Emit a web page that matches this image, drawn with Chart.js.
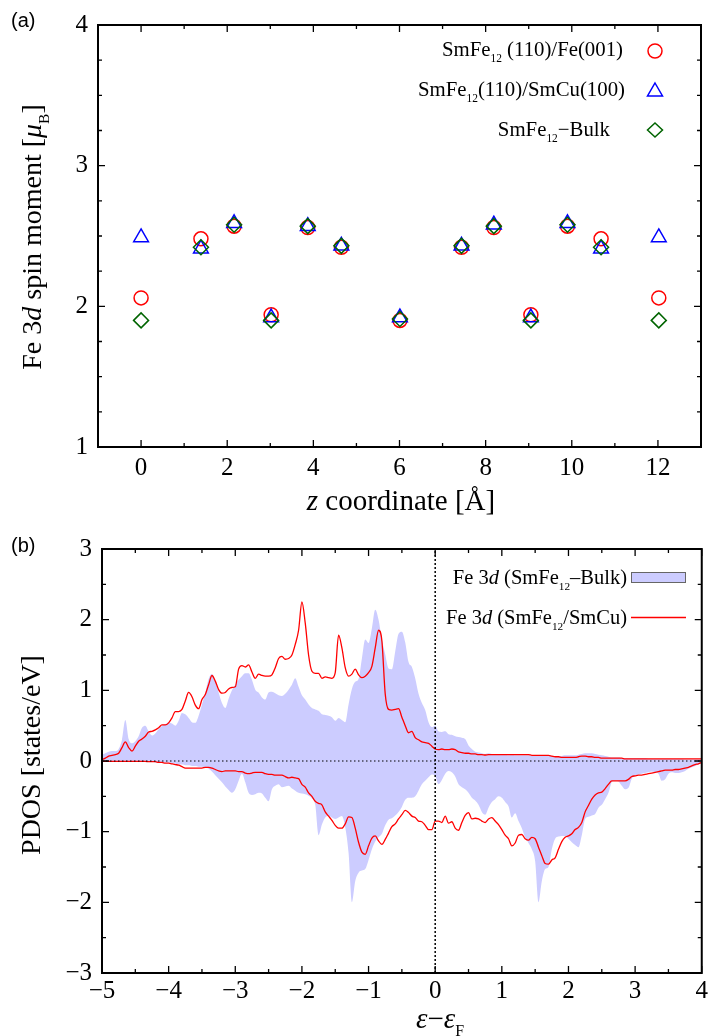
<!DOCTYPE html>
<html lang="en">
<head>
    <meta charset="UTF-8">
    <title>Fe 3d spin moment and PDOS</title>
    <script src="https://cdn.jsdelivr.net/npm/chart.js"></script>
    <style>
        html, body { margin: 0; padding: 0; background: #fff; }
        #wrap {
            position: relative;
            width: 711px;
            height: 1036px;
            overflow: hidden;
            font-family: 'Liberation Serif', 'Times New Roman', serif;
            color: #000;
        }
        canvas { position: absolute; left: 0; }
        #chartA { top: 0; }
        #chartB { top: 520px; }
        .lbl { position: absolute; white-space: nowrap; line-height: 1; }
        .panel { font-family: 'Liberation Sans', Arial, sans-serif; font-size: 20px; }
        .ytitle { transform: translate(-50%, -50%) rotate(-90deg); }
        .xtitle { transform: translateX(-50%); }
        sub { font-size: 0.55em; vertical-align: -0.5em; line-height: 0; }
    </style>
</head>
<body>
<div id="wrap">
    <canvas id="chartA" width="711" height="520"></canvas>
    <canvas id="chartB" width="711" height="516"></canvas>

    <!-- panel (a) -->
    <div class="lbl panel" style="left:11px; top:10px;">(a)</div>
    <div class="lbl ytitle" style="left:32px; top:237px; font-size:28px;">Fe 3<i>d</i> spin moment [<i>μ</i><sub>B</sub>]</div>
    <div class="lbl xtitle" style="left:401px; top:486px; font-size:29px;"><i>z</i> coordinate [Å]</div>
    <div class="lbl" style="right:88px; top:39px; font-size:20.8px;">SmFe<sub>12</sub> (110)/Fe(001)</div>
    <div class="lbl" style="right:86px; top:79px; font-size:20.8px;">SmFe<sub>12</sub>(110)/SmCu(100)</div>
    <div class="lbl" style="right:101px; top:119px; font-size:20.8px;">SmFe<sub>12</sub>−Bulk</div>

    <!-- panel (b) -->
    <div class="lbl panel" style="left:11px; top:535px;">(b)</div>
    <div class="lbl ytitle" style="left:31px; top:755px; font-size:28px;">PDOS [states/eV]</div>
    <div class="lbl xtitle" style="left:440px; top:1004px; font-size:29px;"><i>ε</i>−<i>ε</i><sub>F</sub></div>
    <div class="lbl" style="right:84px; top:567px; font-size:20.5px;">Fe 3<i>d</i> (SmFe<sub>12</sub>–Bulk)</div>
    <div class="lbl" style="right:84px; top:607px; font-size:20.5px;">Fe 3<i>d</i> (SmFe<sub>12</sub>/SmCu)</div>
</div>

<script>
    // ---------- (a) Fe 3d spin moments ----------
    const zCoord   = [0, 1.39, 2.16, 3.02, 3.87, 4.65, 6.01, 7.44, 8.19, 9.05, 9.90, 10.68, 12.02];
    const momFe    = [2.06, 2.48, 2.57, 1.94, 2.56, 2.42, 1.90, 2.42, 2.56, 1.94, 2.57, 2.48, 2.06];
    const momSmCu  = [2.49, 2.41, 2.59, 1.92, 2.57, 2.43, 1.92, 2.43, 2.58, 1.92, 2.59, 2.41, 2.49];
    const momBulk  = [1.90, 2.42, 2.58, 1.90, 2.57, 2.43, 1.91, 2.43, 2.57, 1.90, 2.58, 2.42, 1.90];

    // ---------- (b) PDOS, energy grid -5 .. 4 eV every 0.05 eV ----------
    const energy = Array.from({ length: 181 }, (_, i) => Math.round((-5 + i * 0.05) * 100) / 100);

    const bulkUp = [
        0.09, 0.11, 0.13, 0.14, 0.14, 0.17, 0.30, 0.58, 0.31, 0.25,
        0.28, 0.35, 0.47, 0.50, 0.42, 0.36, 0.39, 0.45, 0.50, 0.52,
        0.55, 0.53, 0.50, 0.57, 0.68, 0.66, 0.61, 0.55, 0.54, 0.64,
        0.80, 0.97, 1.16, 1.23, 1.13, 0.97, 0.82, 0.75, 0.88, 1.00,
        1.08, 1.15, 1.20, 1.24, 1.24, 1.15, 1.01, 0.97, 0.90, 0.87,
        0.97, 0.98, 0.96, 0.93, 0.92, 0.95, 1.01, 1.08, 1.17, 1.05,
        0.93, 0.87, 0.80, 0.75, 0.73, 0.71, 0.66, 0.65, 0.64, 0.62,
        0.57, 0.61, 0.58, 0.55, 0.80, 1.02, 1.12, 1.16, 1.45, 1.72,
        1.67, 1.88, 2.14, 2.00, 1.72, 1.51, 1.31, 1.30, 1.55, 1.80,
        1.83, 1.68, 1.40, 1.33, 1.17, 0.95, 0.82, 0.72, 0.55, 0.48,
        0.50, 0.42, 0.41, 0.42, 0.38, 0.37, 0.35, 0.34, 0.33, 0.31,
        0.22, 0.17, 0.13, 0.12, 0.11, 0.10, 0.11, 0.10, 0.09, 0.10,
        0.09, 0.09, 0.08, 0.09, 0.08, 0.08, 0.08, 0.08, 0.08, 0.07,
        0.07, 0.07, 0.07, 0.07, 0.07, 0.07, 0.07, 0.07, 0.07, 0.08,
        0.08, 0.08, 0.08, 0.09, 0.10, 0.11, 0.11, 0.11, 0.10, 0.09,
        0.08, 0.07, 0.06, 0.05, 0.05, 0.05, 0.04, 0.04, 0.04, 0.04,
        0.04, 0.04, 0.04, 0.04, 0.03, 0.03, 0.03, 0.03, 0.03, 0.03,
        0.03, 0.03, 0.03, 0.03, 0.03, 0.02, 0.02, 0.02, 0.02, 0.02,
        0.02
    ];
    const bulkDown = [
        -0.01, -0.01, -0.01, -0.01, -0.01, -0.01, -0.01, -0.01, -0.01, -0.01,
        -0.01, -0.01, -0.01, -0.01, -0.01, -0.01, -0.02, -0.02, -0.02, -0.02,
        -0.02, -0.03, -0.04, -0.05, -0.05, -0.06, -0.06, -0.07, -0.07, -0.08,
        -0.08, -0.09, -0.11, -0.15, -0.20, -0.25, -0.30, -0.36, -0.41, -0.45,
        -0.40, -0.28, -0.18, -0.30, -0.45, -0.48, -0.47, -0.45, -0.46, -0.52,
        -0.57, -0.40, -0.35, -0.33, -0.37, -0.36, -0.35, -0.39, -0.42, -0.45,
        -0.46, -0.47, -0.49, -0.53, -0.62, -1.05, -0.90, -0.80, -0.78, -0.80,
        -0.82, -0.80, -0.78, -0.94, -1.30, -2.00, -1.70, -1.58, -1.55, -1.53,
        -1.40, -1.25, -1.14, -1.08, -1.03, -0.91, -0.83, -0.81, -0.77, -0.72,
        -0.65, -0.55, -0.52, -0.52, -0.50, -0.42, -0.33, -0.28, -0.23, -0.19,
        -0.21, -0.33, -0.27, -0.18, -0.14, -0.16, -0.22, -0.33, -0.37, -0.40,
        -0.45, -0.52, -0.56, -0.62, -0.72, -0.76, -0.66, -0.58, -0.54, -0.50,
        -0.52, -0.58, -0.64, -0.80, -0.74, -0.85, -0.95, -1.08, -1.16, -1.25,
        -1.42, -2.00, -1.70, -1.53, -1.50, -1.25, -1.10, -1.07, -1.06, -1.06,
        -1.10, -1.15, -1.19, -1.22, -1.05, -0.82, -0.79, -0.77, -0.75, -0.66,
        -0.62, -0.54, -0.45, -0.30, -0.28, -0.29, -0.35, -0.40, -0.38, -0.25,
        -0.21, -0.19, -0.18, -0.17, -0.16, -0.15, -0.16, -0.18, -0.28, -0.26,
        -0.18, -0.16, -0.17, -0.17, -0.16, -0.14, -0.11, -0.09, -0.07, -0.05,
        -0.03
    ];
    const smcuUp = [
        0.02, 0.04, 0.07, 0.08, 0.09, 0.11, 0.19, 0.27, 0.19, 0.14,
        0.21, 0.28, 0.31, 0.35, 0.41, 0.42, 0.44, 0.47, 0.51, 0.51,
        0.54, 0.61, 0.70, 0.70, 0.73, 0.85, 0.97, 0.91, 0.79, 0.74,
        0.87, 0.94, 1.08, 1.21, 1.13, 1.01, 0.96, 0.97, 1.02, 1.04,
        1.05, 1.30, 1.35, 1.33, 1.36, 1.26, 1.17, 1.23, 1.21, 1.20,
        1.20, 1.22, 1.32, 1.45, 1.48, 1.44, 1.45, 1.50, 1.65, 1.85,
        2.25, 1.95, 1.50, 1.27, 1.24, 1.24, 1.17, 1.19, 1.18, 1.17,
        1.25, 1.78, 1.60, 1.32, 1.20, 1.23, 1.30, 1.22, 1.18, 1.20,
        1.25, 1.34, 1.60, 1.85, 1.70, 0.95, 0.73, 0.72, 0.73, 0.74,
        0.62, 0.50, 0.40, 0.42, 0.33, 0.30, 0.27, 0.26, 0.25, 0.21,
        0.17, 0.16, 0.17, 0.16, 0.16, 0.17, 0.16, 0.13, 0.12, 0.11,
        0.11, 0.10, 0.10, 0.09, 0.09, 0.085, 0.09, 0.09, 0.09, 0.09,
        0.09, 0.09, 0.09, 0.09, 0.09, 0.09, 0.09, 0.09, 0.09, 0.08,
        0.08, 0.08, 0.08, 0.08, 0.08, 0.07, 0.06, 0.06, 0.05, 0.05,
        0.05, 0.05, 0.05, 0.06, 0.07, 0.07, 0.06, 0.06, 0.05, 0.05,
        0.04, 0.04, 0.04, 0.04, 0.04, 0.04, 0.04, 0.03, 0.03, 0.03,
        0.03, 0.03, 0.03, 0.03, 0.03, 0.03, 0.03, 0.03, 0.03, 0.03,
        0.03, 0.03, 0.03, 0.03, 0.03, 0.03, 0.03, 0.03, 0.03, 0.03,
        0.03
    ];
    const smcuDown = [
        -0.005, -0.005, -0.005, -0.005, -0.005, -0.005, -0.005, -0.005, -0.005, -0.005,
        -0.005, -0.005, -0.005, -0.005, -0.01, -0.01, -0.01, -0.02, -0.02, -0.03,
        -0.03, -0.04, -0.05, -0.06, -0.08, -0.10, -0.10, -0.10, -0.10, -0.10,
        -0.10, -0.09, -0.09, -0.10, -0.12, -0.14, -0.15, -0.14, -0.14, -0.14,
        -0.14, -0.15, -0.15, -0.17, -0.18, -0.17, -0.16, -0.16, -0.16, -0.18,
        -0.19, -0.19, -0.20, -0.20, -0.20, -0.22, -0.24, -0.23, -0.24, -0.25,
        -0.33, -0.37, -0.45, -0.50, -0.57, -0.60, -0.62, -0.72, -0.78, -0.84,
        -0.91, -0.95, -0.95, -0.89, -0.79, -0.80, -0.95, -1.15, -1.29, -1.32,
        -1.20, -1.09, -1.06, -1.13, -1.18, -1.11, -1.02, -0.93, -0.89, -0.82,
        -0.76, -0.70, -0.73, -0.78, -0.80, -0.85, -0.86, -0.91, -0.97, -0.97,
        -0.85, -0.85, -0.87, -0.78, -0.88, -0.86, -0.95, -0.98, -0.87, -0.77,
        -0.73, -0.82, -0.81, -0.82, -0.85, -0.87, -0.82, -0.80, -0.85, -0.90,
        -0.97, -1.05, -1.10, -1.20, -1.16, -1.05, -1.04, -1.10, -1.12, -1.08,
        -1.10, -1.22, -1.34, -1.45, -1.46, -1.40, -1.37, -1.25, -1.14, -1.08,
        -1.06, -1.03, -0.97, -0.94, -0.87, -0.72, -0.63, -0.54, -0.48, -0.45,
        -0.44, -0.39, -0.33, -0.28, -0.28, -0.28, -0.28, -0.28, -0.26, -0.22,
        -0.21, -0.20, -0.20, -0.19, -0.18, -0.17, -0.16, -0.15, -0.14, -0.13,
        -0.13, -0.13, -0.12, -0.12, -0.11, -0.10, -0.09, -0.07, -0.05, -0.04,
        -0.02
    ];

    Chart.defaults.font.family = "'Liberation Serif', 'Times New Roman', serif";
    Chart.defaults.font.size = 25;
    Chart.defaults.color = '#000';

    const tickFmt = v => String(v).replace('-', '\u2212');
    const isInt = v => Math.abs(v - Math.round(v)) < 1e-6;

    // gnuplot-like frame with inward ticks on all four sides
    function frameTicks(majorX, majorY) {
        return {
            id: 'frameTicks',
            afterDatasetsDraw(chart) {
                const { ctx, chartArea: a, scales: { x, y } } = chart;
                ctx.save();
                ctx.strokeStyle = '#000';
                ctx.lineWidth = 1.3;
                ctx.beginPath();
                x.ticks.forEach(t => {
                    const px = x.getPixelForValue(t.value);
                    const len = majorX(t.value) ? 7 : 4;
                    ctx.moveTo(px, a.bottom); ctx.lineTo(px, a.bottom - len);
                    ctx.moveTo(px, a.top); ctx.lineTo(px, a.top + len);
                });
                y.ticks.forEach(t => {
                    const py = y.getPixelForValue(t.value);
                    const len = majorY(t.value) ? 7 : 4;
                    ctx.moveTo(a.left, py); ctx.lineTo(a.left + len, py);
                    ctx.moveTo(a.right, py); ctx.lineTo(a.right - len, py);
                });
                ctx.stroke();
                ctx.lineWidth = 2;
                ctx.strokeRect(a.left, a.top, a.right - a.left, a.bottom - a.top);
                ctx.restore();
            }
        };
    }

    // legend symbols (panel a)
    const legendA = {
        id: 'legendA',
        afterDraw(chart) {
            const ctx = chart.ctx;
            ctx.save();
            ctx.lineWidth = 1.5;
            ctx.strokeStyle = '#ff0000';
            ctx.beginPath(); ctx.arc(655, 51, 7, 0, Math.PI * 2); ctx.stroke();
            ctx.strokeStyle = '#0000ff';
            ctx.beginPath();
            ctx.moveTo(655, 83); ctx.lineTo(662.5, 96); ctx.lineTo(647.5, 96); ctx.closePath(); ctx.stroke();
            ctx.strokeStyle = '#006400';
            ctx.beginPath();
            ctx.moveTo(655, 123); ctx.lineTo(662.5, 130); ctx.lineTo(655, 137); ctx.lineTo(647.5, 130); ctx.closePath(); ctx.stroke();
            ctx.restore();
        }
    };

    // legend symbols (panel b)
    const legendB = {
        id: 'legendB',
        afterDraw(chart) {
            const ctx = chart.ctx;
            ctx.save();
            ctx.fillStyle = '#ccccff';
            ctx.fillRect(631, 52, 55, 10);
            ctx.strokeStyle = '#666';
            ctx.lineWidth = 1;
            ctx.strokeRect(631.5, 52.5, 54, 10);
            ctx.strokeStyle = '#ff0000';
            ctx.lineWidth = 1.3;
            ctx.beginPath(); ctx.moveTo(631, 97.5); ctx.lineTo(686, 97.5); ctx.stroke();
            ctx.restore();
        }
    };

    // ----- chart (a)
    const pts = ys => zCoord.map((z, i) => ({ x: z, y: ys[i] }));
    new Chart(document.getElementById('chartA'), {
        type: 'scatter',
        data: {
            datasets: [
                { label: 'SmFe12 (110)/Fe(001)', data: pts(momFe), pointStyle: 'circle', pointRadius: 7,
                  borderColor: '#ff0000', backgroundColor: 'rgba(0,0,0,0)', pointBorderWidth: 1.5, order: 3 },
                { label: 'SmFe12(110)/SmCu(100)', data: pts(momSmCu), pointStyle: 'triangle', pointRadius: 8.5,
                  borderColor: '#0000ff', backgroundColor: 'rgba(0,0,0,0)', pointBorderWidth: 1.5, order: 2 },
                { label: 'SmFe12-Bulk', data: pts(momBulk), pointStyle: 'rectRot', pointRadius: 7.5,
                  borderColor: '#006400', backgroundColor: 'rgba(0,0,0,0)', pointBorderWidth: 1.5, order: 1 }
            ]
        },
        options: {
            responsive: false,
            animation: false,
            layout: { padding: { top: 22, right: 7, left: 0, bottom: 0 } },
            plugins: { legend: { display: false }, tooltip: { enabled: false } },
            scales: {
                x: {
                    type: 'linear', min: -1, max: 13,
                    grid: { display: false, drawTicks: false }, border: { display: false },
                    ticks: { stepSize: 1, autoSkip: false, maxRotation: 0, padding: 6,
                             callback: v => (isInt(v) && Math.round(v) % 2 === 0) ? tickFmt(v) : '' },
                    afterFit: s => { s.height = 73; }
                },
                y: {
                    min: 1, max: 4,
                    grid: { display: false, drawTicks: false }, border: { display: false },
                    ticks: { stepSize: 0.25, autoSkip: false, padding: 10,
                             callback: v => isInt(v) ? tickFmt(v) : '' },
                    afterFit: s => { s.width = 98; }
                }
            }
        },
        plugins: [frameTicks(v => isInt(v) && Math.round(v) % 2 === 0, v => isInt(v)), legendA]
    });

    // ----- chart (b)
    const xy = ys => energy.map((e, i) => ({ x: e, y: ys[i] }));
    const fillStyle = { fill: 'origin', backgroundColor: '#ccccff', borderWidth: 0, borderColor: 'rgba(0,0,0,0)',
                        pointRadius: 0, cubicInterpolationMode: 'monotone', order: 4 };
    const redStyle = { fill: false, borderColor: '#ff0000', borderWidth: 1.3, pointRadius: 0,
                       cubicInterpolationMode: 'monotone', order: 2 };
    new Chart(document.getElementById('chartB'), {
        type: 'line',
        data: {
            datasets: [
                Object.assign({ label: 'Fe 3d (SmFe12-Bulk) up', data: xy(bulkUp) }, fillStyle),
                Object.assign({ label: 'Fe 3d (SmFe12-Bulk) down', data: xy(bulkDown) }, fillStyle),
                Object.assign({ label: 'Fe 3d (SmFe12/SmCu) up', data: xy(smcuUp) }, redStyle),
                Object.assign({ label: 'Fe 3d (SmFe12/SmCu) down', data: xy(smcuDown) }, redStyle),
                { label: 'zero', data: [{ x: energy[0], y: 0 }, { x: energy[energy.length - 1], y: 0 }],
                  borderColor: '#000', borderWidth: 1, borderDash: [1.5, 2.5], pointRadius: 0, fill: false, order: 1 },
                { label: 'E_F', data: [{ x: 0, y: -3 }, { x: 0, y: 3 }],
                  borderColor: '#000', borderWidth: 1.5, borderDash: [2, 2], pointRadius: 0, fill: false, order: 1 }
            ]
        },
        options: {
            responsive: false,
            animation: false,
            layout: { padding: { top: 29, right: 6, left: 0, bottom: 0 } },
            plugins: { legend: { display: false }, tooltip: { enabled: false } },
            scales: {
                x: {
                    type: 'linear', min: -5, max: 4,
                    grid: { display: false, drawTicks: false }, border: { display: false },
                    ticks: { stepSize: 0.5, autoSkip: false, maxRotation: 0, padding: 3,
                             callback: v => isInt(v) ? tickFmt(Math.round(v)) : '' },
                    afterFit: s => { s.height = 63; }
                },
                y: {
                    min: -3, max: 3,
                    grid: { display: false, drawTicks: false }, border: { display: false },
                    ticks: { stepSize: 0.5, autoSkip: false, padding: 10,
                             callback: v => isInt(v) ? tickFmt(Math.round(v)) : '' },
                    afterFit: s => { s.width = 102; }
                }
            }
        },
        plugins: [frameTicks(isInt, isInt), legendB]
    });
</script>
</body>
</html>
